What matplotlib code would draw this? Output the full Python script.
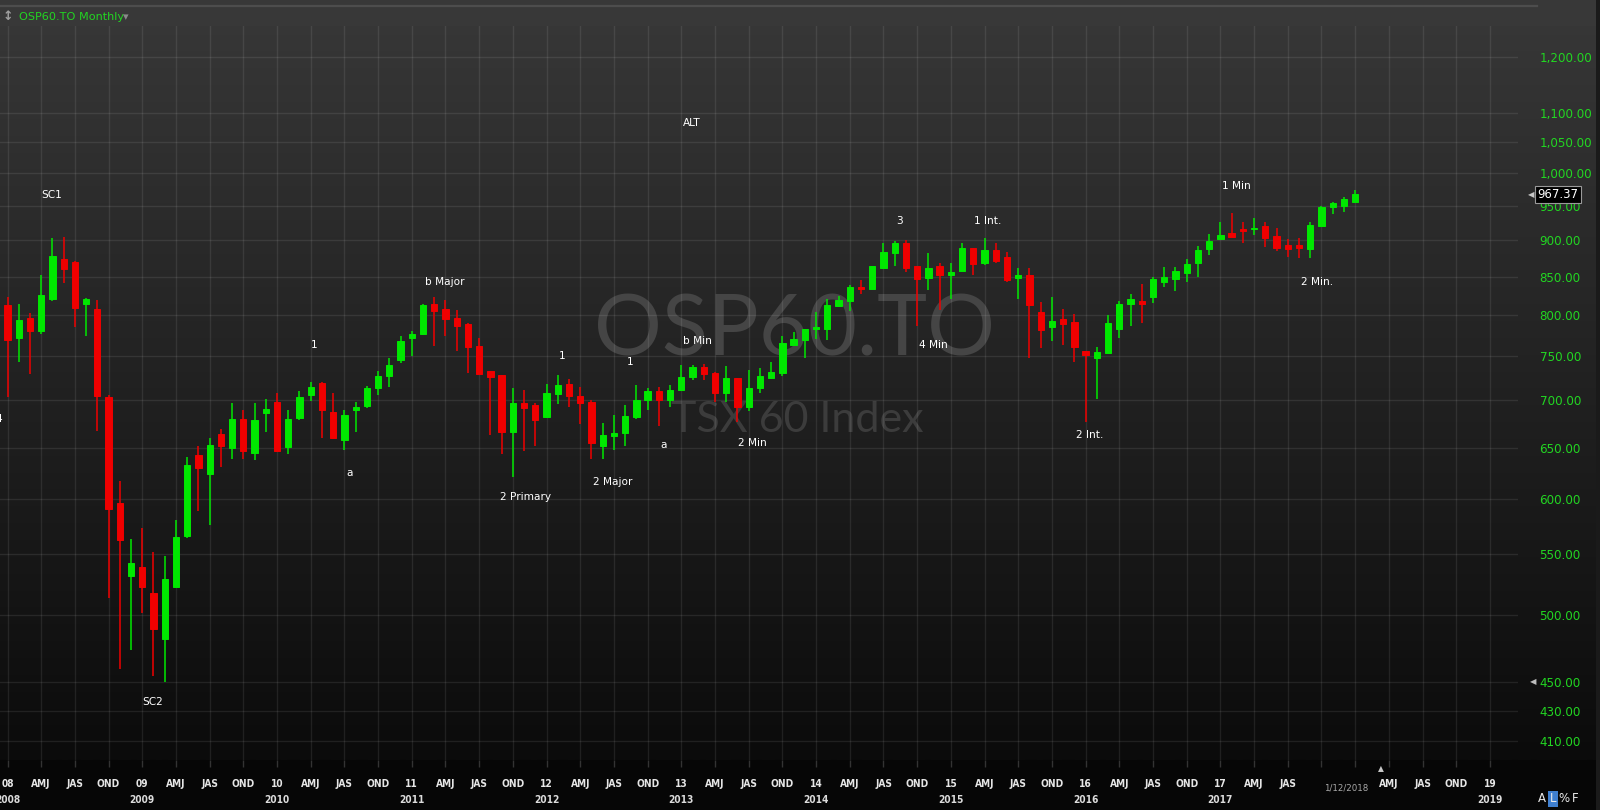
import numpy as np
import matplotlib
matplotlib.use("Agg")
import matplotlib.pyplot as plt
from matplotlib.transforms import blended_transform_factory
from matplotlib.ticker import NullLocator, FixedLocator
from matplotlib.patches import Rectangle

# ---------------- data (monthly OHLC, Jan 2008 .. Jan 2018) ----------------
opens = [813, 772, 797, 781, 821, 874, 870, 814, 808, 704,
         596, 531, 539, 517, 481, 522, 566, 642, 624, 664,
         650, 680, 645, 686, 698, 651, 681, 706, 719, 687,
         658, 690, 694, 714, 727, 746, 772, 777, 814, 808,
         797, 789, 763, 733, 728, 666, 697, 695, 682, 707,
         718, 705, 698, 652, 662, 665, 682, 700, 710, 700,
         712, 726, 738, 731, 708, 725, 693, 714, 725, 731,
         764, 770, 783, 783, 812, 818, 837, 834, 862, 882,
         896, 864, 849, 864, 853, 858, 890, 868, 886, 877,
         849, 853, 804, 785, 795, 792, 757, 748, 754, 783,
         814, 818, 823, 843, 847, 855, 868, 888, 902, 911,
         916, 916, 920, 907, 894, 893, 888, 921, 949, 950,
         956]
highs = [823, 815, 803, 852, 904, 905, 871, 822, 820, 706,
         617, 563, 573, 552, 548, 580, 640, 652, 660, 669,
         697, 689, 697, 702, 708, 690, 710, 721, 720, 708,
         690, 698, 716, 733, 748, 774, 781, 815, 824, 819,
         807, 791, 772, 733, 729, 714, 712, 697, 718, 728,
         724, 715, 701, 676, 684, 695, 717, 714, 715, 717,
         740, 740, 741, 732, 739, 725, 734, 737, 743, 774,
         779, 783, 804, 821, 825, 839, 846, 865, 896, 899,
         901, 864, 882, 869, 869, 896, 890, 904, 897, 884,
         862, 862, 817, 824, 808, 802, 757, 761, 801, 818,
         828, 840, 850, 863, 863, 874, 892, 909, 927, 939,
         927, 932, 927, 918, 902, 904, 927, 950, 956, 964,
         974]
lows = [704, 743, 730, 777, 818, 842, 785, 775, 667, 513,
        459, 473, 501, 454, 450, 522, 564, 588, 576, 630,
        638, 638, 637, 666, 647, 643, 679, 699, 660, 659,
        648, 666, 692, 706, 715, 742, 750, 776, 763, 775,
        757, 731, 730, 663, 643, 621, 647, 652, 681, 696,
        693, 675, 638, 638, 648, 652, 680, 690, 672, 693,
        710, 723, 723, 698, 698, 677, 688, 708, 724, 727,
        762, 748, 771, 770, 811, 805, 827, 834, 860, 865,
        856, 787, 833, 807, 821, 858, 853, 866, 868, 843,
        821, 748, 760, 769, 764, 743, 677, 702, 754, 772,
        787, 791, 816, 836, 831, 843, 850, 880, 902, 905,
        897, 908, 891, 885, 877, 876, 876, 920, 938, 941,
        956]
closes = [770, 794, 781, 826, 878, 860, 809, 821, 705, 590,
          562, 542, 522, 489, 529, 565, 632, 629, 653, 652,
          680, 647, 679, 691, 647, 680, 704, 715, 689, 660,
          684, 693, 714, 727, 740, 768, 777, 813, 806, 796,
          787, 761, 730, 726, 666, 697, 692, 679, 708, 717,
          705, 697, 655, 663, 665, 683, 701, 710, 700, 712,
          726, 738, 730, 708, 725, 693, 714, 727, 732, 766,
          771, 783, 785, 813, 820, 837, 834, 865, 884, 897,
          862, 847, 862, 852, 856, 890, 867, 886, 871, 846,
          853, 813, 782, 793, 789, 761, 752, 755, 791, 815,
          821, 815, 847, 850, 858, 867, 887, 899, 908, 905,
          913, 918, 904, 890, 888, 890, 922, 948, 954, 960,
          967.37]

price_ticks = [410, 430, 450, 500, 550, 600, 650, 700, 750, 800,
               850, 900, 950, 1000, 1050, 1100, 1200]

quarter_labels = ["08", "AMJ", "JAS", "OND", "09", "AMJ", "JAS", "OND",
                  "10", "AMJ", "JAS", "OND", "11", "AMJ", "JAS", "OND",
                  "12", "AMJ", "JAS", "OND", "13", "AMJ", "JAS", "OND",
                  "14", "AMJ", "JAS", "OND", "15", "AMJ", "JAS", "OND",
                  "16", "AMJ", "JAS", "OND", "17", "AMJ", "JAS", "",
                  "", "AMJ", "JAS", "OND", "19"]
year_labels = ["2008", "2009", "2010", "2011", "2012", "2013", "2014",
               "2015", "2016", "2017", "", "2019"]

# wave annotations: (text, month index, price)
annotations = [("SC1", 3.96, 967), ("4", -0.76, 680), ("SC2", 12.93, 436),
               ("1", 27.32, 764), ("a", 30.44, 625), ("b Major", 38.96, 843),
               ("1", 49.4, 751), ("1", 55.43, 744), ("2 Primary", 46.17, 601),
               ("2 Major", 53.86, 616), ("a", 58.4, 653), ("b Min", 61.46, 769),
               ("2 Min", 66.34, 655), ("ALT", 60.95, 1083), ("3", 79.41, 928),
               ("1 Int.", 87.25, 928), ("4 Min", 82.44, 764), ("2 Int.", 96.33, 663),
               ("1 Min", 109.46, 980), ("2 Min.", 116.58, 843)]

last_price = closes[-1]
cursor_date = "1/12/2018"

# ---------------- figure ----------------
W, H = 1600, 810
fig = plt.figure(figsize=(W / 100, H / 100), dpi=100)
fig.patch.set_facecolor("#050505")

bg = fig.add_axes([0, 0, 1, 1], zorder=0)
bg.set_xlim(0, W)
bg.set_ylim(H, 0)
bg.set_axis_off()

# vertical gradient background of the chart panel
g = np.linspace(0, 1, 400)[:, None]
top_c = np.array([0x38, 0x38, 0x38]) / 255.0
bot_c = np.array([0x0b, 0x0b, 0x0b]) / 255.0
img = top_c[None, None, :] * (1 - g[..., None]) + bot_c[None, None, :] * g[..., None]
bg.imshow(img, aspect="auto", extent=[0, W, 760, 0], interpolation="bilinear", zorder=0)
bg.add_patch(Rectangle((0, 760), W, 50, facecolor="#060606", edgecolor="none", zorder=1))
bg.add_patch(Rectangle((0, 0), W, 26, facecolor="#383838", edgecolor="none", zorder=1))
bg.plot([0, 1537], [6, 6], color="#4d4d4d", lw=1.6, zorder=2)
bg.add_patch(Rectangle((1596, 0), 4, 810, facecolor="#1a1a1a", edgecolor="none", zorder=2))

# title
bg.text(8, 17, "\u2195", color="#a0a0a0", fontsize=9, fontweight="bold",
        ha="center", va="center", zorder=3)
bg.text(19, 17, "OSP60.TO Monthly", color="#22d622", fontsize=8.1,
        ha="left", va="center", zorder=3)
bg.text(126, 17, "\u25BE", color="#8a8a8a", fontsize=8, ha="center", va="center", zorder=3)

# main price axes
left_px, right_px, top_px, bot_px = 0, 1518, 26, 760
ax = fig.add_axes([left_px / W, (H - bot_px) / H, (right_px - left_px) / W,
                   (bot_px - top_px) / H], zorder=1)
ax.set_facecolor("none")
ax.set_yscale("log")
ax.set_ylim(397.9, 1260.5)
ax.set_xlim(-0.668, 134.5)
for s in ax.spines.values():
    s.set_visible(False)

# watermark
ax.text(795, 332, "OSP60.TO", transform=bg.transData, fontsize=61,
        family="Lato", color="#454545",
        ha="center", va="center", zorder=0.5)
ax.text(797, 420, "TSX 60 Index", transform=bg.transData, fontsize=31,
        family="Lato", color="#3c3c3c",
        ha="center", va="center", zorder=0.5)

# grid / ticks
q_pos = np.arange(0, 3 * len(quarter_labels), 3)
ax.xaxis.set_major_locator(FixedLocator(q_pos))
ax.xaxis.set_minor_locator(NullLocator())
ax.set_xticklabels([])
ax.tick_params(axis="x", direction="out", length=5, width=1, color="#333333")
ax.yaxis.set_major_locator(FixedLocator(price_ticks))
ax.yaxis.set_minor_locator(NullLocator())
ax.yaxis.tick_right()
ax.set_yticklabels([f"{v:,.2f}" for v in price_ticks])
ax.tick_params(axis="y", length=0, pad=15.5, labelcolor="#22d622", labelsize=8.6)
ax.grid(True, color="white", alpha=0.085, lw=1.0, zorder=1)
ax.set_axisbelow(True)

# candles
x = np.arange(len(opens))
o = np.array(opens, float)
c = np.array(closes, float)
h = np.array(highs, float)
l = np.array(lows, float)
up = c >= o
cols = np.where(up, "#00e800", "#f00000")
ax.vlines(x, l, h, colors=cols, lw=1.1, zorder=3)
body_lo = np.minimum(o, c)
body_hi = np.maximum(o, c)
ax.bar(x, body_hi - body_lo, bottom=body_lo, width=0.56, color=cols,
       edgecolor=cols, linewidth=0.7, zorder=4)

# annotations
for txt, xi, yv in annotations:
    ax.text(xi, yv, txt, color="white", fontsize=7.6, ha="center", va="center",
            zorder=5, clip_on=False)

# x-axis labels (quarters + years) in the black strip
tr_x = blended_transform_factory(ax.transData, bg.transData)
for p, lab in zip(q_pos, quarter_labels):
    if lab:
        ax.text(p, 784, lab, transform=tr_x, color="#e6e6e6", fontsize=7.3,
                fontweight="bold", ha="center", va="center", clip_on=False,
                fontstretch="condensed")
for p, lab in zip(q_pos[::4], year_labels):
    if lab:
        ax.text(p, 800, lab, transform=tr_x, color="#dcdcdc", fontsize=7.3,
                fontweight="bold", ha="center", va="center", clip_on=False,
                fontstretch="condensed")
ax.text(len(opens) - 1.8, 788, cursor_date, transform=tr_x, color="#a8a8a8",
        fontsize=6.2, ha="center", va="center", clip_on=False)
ax.text(len(opens) + 1.3, 769, "\u25B2", transform=tr_x, color="#c8c8c8",
        fontsize=5.5, ha="center", va="center", clip_on=False)

# price markers on the right
tr_y = blended_transform_factory(bg.transData, ax.transData)
ax.text(1558, last_price, f"{last_price:.2f}", transform=tr_y, color="white",
        fontsize=8.4, ha="center", va="center", clip_on=False, zorder=6,
        bbox=dict(boxstyle="square,pad=0.18", fc="black", ec="#9a9a9a", lw=0.8))
ax.text(1531, last_price, "\u25C0", transform=tr_y, color="#c8c8c8",
        fontsize=6, ha="center", va="center", clip_on=False, zorder=6)
ax.text(1533, 450, "\u25C0", transform=tr_y, color="#bdbdbd",
        fontsize=6, ha="center", va="center", clip_on=False, zorder=6)

# bottom-right scale buttons
bg.text(1542, 799, "A", color="#e8e8e8", fontsize=8.5, ha="center", va="center", zorder=3)
bg.text(1553, 799, "L", color="#e8e8e8", fontsize=8.5, ha="center", va="center", zorder=3,
        bbox=dict(boxstyle="square,pad=0.12", fc="#3f7fcf", ec="none"))
bg.text(1564, 799, "%", color="#e8e8e8", fontsize=8.5, ha="center", va="center", zorder=3)
bg.text(1575, 799, "F", color="#e8e8e8", fontsize=8.5, ha="center", va="center", zorder=3)

fig.savefig("out.png", dpi=100, facecolor=fig.get_facecolor())
